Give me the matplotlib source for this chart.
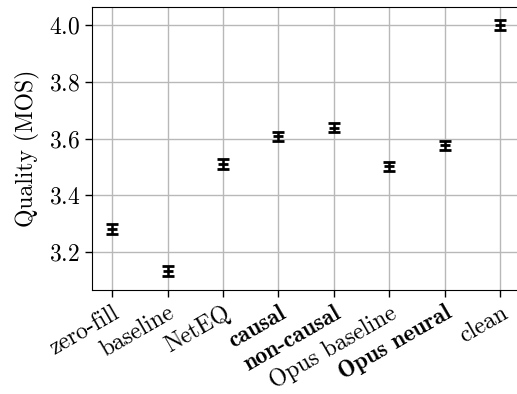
import matplotlib
matplotlib.use('Agg')
import matplotlib.pyplot as plt
from matplotlib.font_manager import FontProperties
import os

# values
methods = ['zero-fill', 'baseline', 'NetEQ', 'causal', 'non-causal',
           'Opus baseline', 'Opus neural', 'clean']
bold = [False, False, False, True, True, False, True, False]
mos = [3.282, 3.135, 3.510, 3.608, 3.638, 3.502, 3.577, 4.000]
ci = [0.018, 0.018, 0.017, 0.016, 0.016, 0.016, 0.016, 0.017]

plt.rcParams['font.family'] = 'serif'
plt.rcParams['font.serif'] = ['cmr10']
plt.rcParams['axes.formatter.use_mathtext'] = True
plt.rcParams['font.size'] = 17

bold_font = FontProperties(fname=os.path.join(matplotlib.get_data_path(), 'fonts', 'ttf', 'cmb10.ttf'), size=17)

fig = plt.figure(figsize=(5.17, 3.94), dpi=100)
ax = fig.add_axes([0.178, 0.264, 0.833, 0.718])

x = list(range(len(methods)))
ax.errorbar(x, mos, yerr=ci, fmt='_', color='black', ms=7, mew=2,
            elinewidth=1.8, capsize=4.5, capthick=2, zorder=3)

ax.set_xlim(-0.36, 7.4)
ax.set_ylim(3.067, 4.063)
ax.set_yticks([3.2, 3.4, 3.6, 3.8, 4.0])
ax.set_xticks(x)
ax.set_xticklabels(methods, rotation=30, ha='right', rotation_mode='anchor')
for lab, b in zip(ax.get_xticklabels(), bold):
    if b:
        lab.set_fontproperties(bold_font)
ax.set_ylabel('Quality (MOS)', labelpad=6)
ax.grid(True, color='#b8b8b8', linewidth=1.0)
ax.set_axisbelow(True)
ax.tick_params(direction='out', length=5, width=1)
ax.spines['right'].set_visible(False)

fig.savefig('out.png', dpi=100)
